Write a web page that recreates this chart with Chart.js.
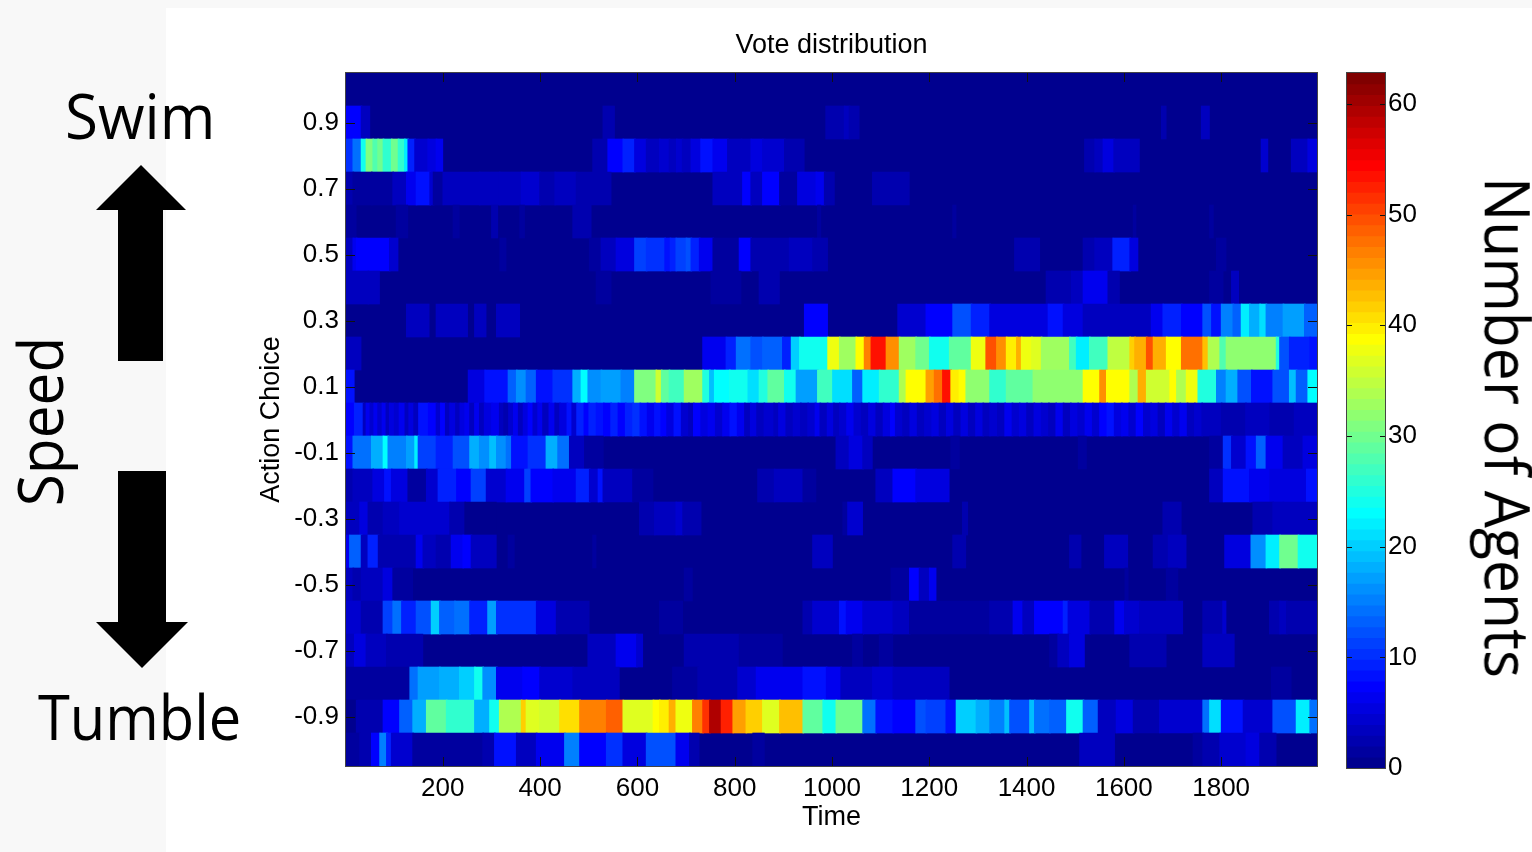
<!DOCTYPE html>
<html><head><meta charset="utf-8">
<script src="https://cdn.jsdelivr.net/npm/chart.js@4"></script>
<style>
html,body{margin:0;padding:0;width:1532px;height:852px;overflow:hidden;background:#fff}
#pl{position:absolute;left:0;top:0;width:166px;height:852px;background:#f8f8f8}
#pt{position:absolute;left:0;top:0;width:1532px;height:8px;background:#f8f8f8}
canvas{position:absolute}
.t{position:absolute;font-family:"Open Sans";color:#000;white-space:nowrap;line-height:1;font-size:63px}
svg{position:absolute;left:0;top:0}
</style></head><body>
<div id="pl"></div><div id="pt"></div>
<canvas id="main" width="1532" height="852" style="left:0;top:0"></canvas>
<canvas id="bar" width="232" height="852" style="left:1300px;top:0"></canvas>
<svg width="200" height="852"><polygon points="141,165 186,210 163,210 163,361 118,361 118,210 96,210" fill="#000"/><polygon points="118,471 166,471 166,622 188,622 142,668 96,622 118,622" fill="#000"/></svg>
<div class="t" style="left:65px;top:83px;transform-origin:left center;transform:scaleX(.954)">Swim</div>
<div class="t" style="left:38px;top:684px;transform-origin:left center;transform:scaleX(.918)">Tumble</div>
<div class="t" style="left:-53px;top:390px;transform:rotate(-90deg) scaleX(.93)">Speed</div>
<div class="t" style="left:1241px;top:396px;transform:rotate(90deg) scaleX(.934)">Number of Agents</div>
<script>
const rowLabels=['1.0','0.9','0.8','0.7','0.6','0.5','0.4','0.3','0.2','0.1','0.0','-0.1','-0.2','-0.3','-0.4','-0.5','-0.6','-0.7','-0.8','-0.9','-1.0'];
const xTicks=[200,400,600,800,1000,1200,1400,1600,1800];
const yTickLabels=['0.9','0.7','0.5','0.3','0.1','-0.1','-0.3','-0.5','-0.7','-0.9'];
const barTicks=[0,10,20,30,40,50,60];
// Each row: [segment start time, agents] — a value holds until the next start
const rowP10=[[1,0]];
const rowP09=[[1,7],[32,3],[50,0],[529,2],[553,0],[987,2],[1025,3],[1035,2],[1056,0],[1677,2.5],[1687,0],[1759,3],[1776,0]];
const rowP08=[[1,10],[15,14],[32,24],[42,31],[56,28],[66,30],[77,26],[94,30],[108,26],[121,22],[128,9],[142,4],[169,5],[186,6],[200,0],[508,2],[539,7],[570,9],[594,5],[618,3],[645,4],[665,3],[680,4],[692,3],[710,5],[730,8],[755,6],[785,3.5],[813,3],[833,5],[857,4],[902,2.5],[943,0],[1519,2],[1540,3],[1557,5],[1579,3],[1632,0],[1882,4.5],[1896,0],[1944,3],[1978,5]];
const rowP07=[[1,2],[15,1],[53,1.5],[97,3.5],[125,6],[145,8],[173,4],[180,1],[200,3],[275,3.5],[316,3],[361,4.5],[399,2.5],[430,3.5],[474,2],[546,0],[755,3],[816,7],[833,3.5],[857,7],[892,1],[929,5],[967,6],[984,2.5],[1005,0],[1083,2.5],[1159,0]];
const rowP06=[[1,1.5],[22,0],[104,1.5],[128,0],[221,1.5],[234,0],[300,2],[313,0],[358,1.5],[368,0],[467,2],[505,0],[970,1],[977,0],[1248,1],[1255,0],[1619,1.5],[1625,0],[1776,1.5],[1784,0]];
const rowP05=[[1,3],[15,6],[22,7],[90,4],[108,0],[317,1.5],[330,0],[501,1.5],[525,3],[556,5],[594,11],[618,10],[656,8],[667,9],[679,11],[700,12],[710,9],[727,6],[755,1],[809,7],[833,2],[912,3],[960,2.5],[991,0],[1375,2],[1427,0],[1516,2.5],[1540,3.5],[1577,9],[1612,5],[1629,0],[1790,1.5],[1810,0]];
const rowP04=[[1,3],[46,3.5],[70,0],[515,1],[546,0],[751,1.5],[813,0],[850,2],[892,0],[1440,2],[1492,3.5],[1516,6],[1567,2],[1591,0],[1776,1.5],[1804,0],[1821,3],[1836,0]];
const rowP03=[[1,0],[125,3],[172,0],[186,3.5],[251,0],[265,3],[289,0],[310,3.5],[358,0],[943,7],[991,0],[1135,4],[1193,7],[1248,12],[1286,9],[1324,5],[1444,8],[1475,5],[1516,3.5],[1656,6],[1680,9],[1718,7.5],[1762,12],[1780,8],[1800,15],[1824,13],[1841,22],[1858,18],[1879,21],[1892,15],[1927,17],[1971,13]];
const rowP02=[[1,3],[32,0],[734,6],[782,9],[803,14],[833,12],[857,13],[898,9],[916,20],[933,24],[991,38],[1015,33],[1049,39],[1066,47],[1080,54],[1111,46],[1138,33],[1172,30],[1200,24],[1241,29],[1286,38],[1316,50],[1338,46],[1358,40],[1379,44],[1389,38],[1410,37],[1430,33],[1488,27],[1502,22],[1529,27],[1567,35],[1612,42],[1622,44],[1646,50],[1660,44],[1687,39],[1718,48],[1762,43],[1773,34],[1797,28],[1810,32],[1913,25],[1920,12],[1940,9],[1982,8]];
const rowP01=[[1,8],[18,0],[252,5],[286,8],[334,13],[351,16],[371,13],[392,8],[426,10],[467,18],[484,23],[498,16],[525,17],[566,15],[594,31],[638,36],[649,29],[665,27],[696,33],[734,25],[748,19],[758,23],[789,24],[827,21],[850,25],[868,29],[902,24],[926,17],[970,27],[1001,21],[1042,13],[1063,22],[1097,26],[1138,34],[1152,39],[1193,45],[1210,48],[1227,54],[1244,40],[1261,39],[1275,32],[1324,26],[1358,29],[1413,32],[1516,39],[1550,46],[1564,39],[1612,34],[1629,44],[1646,36],[1694,39],[1708,34],[1728,38],[1752,25],[1790,15],[1810,18],[1834,12],[1862,8],[1906,12],[1940,19],[1954,13],[1978,23]];
const rowZ00=[[1,7],[18,9],[36,3],[42,6],[50,4],[58,6],[66,4],[75,6],[83,3],[90,5],[100,4],[110,6],[122,3],[130,5],[140,3],[150,8],[170,7],[186,4],[195,7],[205,3],[214,5],[226,3],[235,5],[245,6],[255,3],[265,6],[275,3],[285,5],[300,6],[316,3],[325,2],[335,4],[345,6],[355,3],[365,5],[375,7],[385,4],[395,6],[405,3],[418,6],[430,3],[440,5],[455,8],[465,4],[475,9],[490,7],[500,9],[515,8],[530,7],[545,9],[560,7],[575,9],[590,10],[605,8],[620,6],[635,8],[648,7],[660,5],[675,8],[690,4],[705,3],[715,7],[730,5],[745,6],[760,4],[775,6],[790,8],[805,6],[820,3],[832,5],[845,3],[860,4],[880,3],[890,5],[905,3],[920,4],[935,3],[950,4],[965,6],[975,3],[990,5],[1003,3],[1015,4],[1030,6],[1045,4],[1060,3],[1075,5],[1090,3],[1105,5],[1120,7],[1130,4],[1145,3],[1160,5],[1175,3],[1190,4],[1205,5],[1220,3],[1235,5],[1250,3],[1265,5],[1280,3],[1295,5],[1310,3],[1324,4],[1340,3],[1355,6],[1370,4],[1385,5],[1400,3],[1415,5],[1430,4],[1445,3],[1460,6],[1475,3],[1490,5],[1505,4],[1520,6],[1535,4],[1550,7],[1565,8],[1580,5],[1595,6],[1610,4],[1625,7],[1640,4],[1655,5],[1670,3],[1685,6],[1700,4],[1715,6],[1730,3],[1745,4],[1760,3],[1800,2.5],[1850,3],[1900,2],[1950,3]];
const rowM01=[[1,8],[15,14],[53,18],[77,23],[87,15],[125,17],[142,22],[149,11],[186,9],[221,12],[255,18],[275,16],[296,19],[310,16],[330,14],[341,8],[375,10],[412,18],[436,14],[460,3],[491,1.5],[530,0],[1008,3.5],[1035,5],[1063,3.5],[1083,0],[1244,1.5],[1262,0],[1506,1],[1523,0],[1776,1.5],[1804,10],[1821,4],[1851,8],[1872,13],[1892,6],[1927,3],[1968,5]];
const rowM02=[[1,2],[15,3],[56,5],[80,8],[94,5],[128,1],[166,4],[190,9],[228,7],[258,11],[289,4],[330,6],[368,11],[381,7],[426,6],[474,9],[501,4],[519,8],[529,3],[590,1],[632,0],[847,2],[881,3.5],[940,1.5],[967,0],[1090,3],[1125,7],[1172,5],[1241,0],[1776,3],[1804,8],[1858,6],[1900,5],[1975,8]];
const rowM03=[[1,3.5],[29,5],[46,2],[77,3],[111,4],[214,2],[245,0.5],[310,0],[604,2.5],[635,3],[679,4],[693,2],[731,0],[1022,1],[1032,4],[1063,0],[1268,2],[1279,0],[1680,2],[1718,0],[1865,2],[1906,3.5],[1927,3]];
const rowM04=[[1,6],[8,13],[32,3],[46,9],[67,2],[87,2.5],[145,6],[159,3.5],[186,2],[217,6],[241,7],[258,3],[310,0],[334,1],[347,0],[508,1],[515,0],[960,3],[1001,0],[1248,2.5],[1275,0],[1488,2],[1512,0],[1560,3],[1608,0],[1660,2.5],[1691,3],[1728,0],[1807,5],[1861,16],[1892,22],[1920,30],[1958,24]];
const rowM05=[[1,3],[15,2],[32,3],[77,5],[97,1],[138,0],[696,1.5],[713,0],[1121,1.5],[1159,7],[1179,3.5],[1200,6],[1214,0],[1602,1],[1609,0],[1687,1.5],[1711,0]];
const rowM06=[[1,4],[32,2.5],[77,11],[97,14],[115,9],[145,12],[176,20],[193,13],[224,14],[255,9],[292,17],[310,10],[392,5],[433,2],[501,0],[645,1.5],[693,0],[940,2.5],[960,4.5],[1015,8],[1029,6],[1063,4],[1125,3],[1159,1],[1324,2.5],[1372,6],[1392,3.5],[1416,7.5],[1475,9],[1485,5],[1530,2],[1581,6],[1601,4.5],[1632,3],[1721,0],[1762,2],[1803,4],[1810,0],[1899,2.5],[1920,3.5],[1934,2.5]];
const rowM07=[[1,3],[18,5],[42,3],[84,2],[159,0],[498,3.5],[556,6],[598,4],[611,0],[696,2.5],[809,1],[898,0],[1042,1.5],[1063,0],[1097,1.5],[1125,0],[1447,1.5],[1464,3],[1488,5.5],[1519,0],[1612,2],[1687,0],[1762,3],[1827,0]];
const rowM08=[[1,1],[132,14],[149,17],[193,18],[234,20],[265,24],[282,16],[310,6],[364,7],[399,4.5],[467,3],[563,0],[672,1.5],[724,2],[806,4],[844,6.5],[940,8],[988,6],[1018,3],[1083,4],[1125,3],[1241,0],[1903,1],[1944,0]];
const rowM09=[[1,0.5],[22,2],[77,7],[111,13],[138,18],[166,29],[207,26],[265,18],[296,24],[316,34],[361,42],[371,37],[399,36],[440,41],[481,47],[536,49],[570,37],[632,39],[645,40],[665,44],[679,38],[713,47],[734,52],[748,60],[772,53],[796,45],[823,42],[857,37],[892,43],[940,29],[981,24],[1008,30],[1063,14],[1090,8],[1125,7],[1172,12],[1193,11],[1234,8],[1255,20],[1296,18],[1324,15],[1355,19],[1365,12],[1406,19],[1416,14],[1447,13],[1482,24],[1516,13],[1547,3],[1584,5],[1619,2],[1673,4],[1762,14],[1776,21],[1800,8],[1845,4.5],[1906,12],[1954,22],[1982,14]];
const rowM10=[[1,1],[29,2.5],[53,7],[70,15],[84,9],[94,4],[138,1],[282,2],[306,8],[351,3],[392,6],[450,15],[481,7],[536,10],[570,5],[618,12],[679,6],[707,2],[727,0],[837,1.5],[861,0],[1509,3],[1581,0],[1742,1.5],[1762,2.5],[1797,4],[1851,5],[1879,2],[1913,0]];
const rows=[rowP10,rowP09,rowP08,rowP07,rowP06,rowP05,rowP04,rowP03,rowP02,rowP01,rowZ00,rowM01,rowM02,rowM03,rowM04,rowM05,rowM06,rowM07,rowM08,rowM09,rowM10];
const xMin=1,xMax=1997,cbMax=62.8,nLevels=64;

function jet(i){
  const c=v=>Math.round(255*Math.max(0,Math.min(1,v)));
  const r=i<24?0:i<56?(i-23)/16:1-(i-55)/16;
  const g=i<8?0:i<24?(i-7)/16:i<40?1:1-(i-39)/16;
  const b=i<8?.5+(i+1)/16:i<24?1:i<40?1-(i-23)/16:0;
  return `rgb(${c(r)},${c(g)},${c(b)})`;
}
const colorOf=v=>jet(Math.max(0,Math.min(nLevels-1,Math.floor(v/63*nLevels))));

const F='"Liberation Sans",Arial,sans-serif';
const fs=26,ts=27;
const cells=[];
rows.forEach((row,ri)=>{row.forEach((s,i)=>{
  const end=i+1<row.length?row[i+1][0]:xMax;
  if(s[1]>0&&end>s[0]) cells.push({x:[s[0],end+(i+1<row.length&&row[i+1][1]>0?2:0)],y:rowLabels[ri],v:s[1]});
});});

const frame={id:'frame',
 beforeDatasetsDraw(c){const a=c.chartArea,x=c.ctx;x.save();x.fillStyle=jet(0);x.fillRect(a.left,a.top,a.width,a.height);x.restore();},
 afterDraw(c){const a=c.chartArea,x=c.ctx;x.save();
  x.strokeStyle='#111';x.lineWidth=1;x.beginPath();
  c.scales.x.ticks.forEach(t=>{const p=Math.round(c.scales.x.getPixelForValue(t.value))+.5;x.moveTo(p,a.top);x.lineTo(p,a.top+9);x.moveTo(p,a.bottom);x.lineTo(p,a.bottom-9);});
  yTickLabels.forEach(l=>{const p=Math.round(c.scales.y.getPixelForValue(rowLabels.indexOf(l)))+.5;x.moveTo(a.left,p);x.lineTo(a.left+9,p);x.moveTo(a.right,p);x.lineTo(a.right-9,p);});
  x.stroke();
  x.strokeStyle='#444';x.strokeRect(a.left-.5,a.top-.5,a.width+1,a.height+1);x.restore();}};

new Chart(document.getElementById('main'),{type:'bar',
 data:{labels:rowLabels,datasets:[{data:cells,backgroundColor:c=>colorOf(c.raw.v),borderWidth:0,barPercentage:1,categoryPercentage:1,grouped:false}]},
 options:{indexAxis:'y',responsive:false,animation:false,events:[],
  layout:{padding:{left:255,right:215,top:0,bottom:18}},
  plugins:{legend:{display:false},tooltip:{enabled:false},
   title:{display:true,text:'Vote distribution',fullSize:false,color:'#000',font:{family:F,size:ts,weight:'normal'},padding:{top:29.3,bottom:11.3}}},
  scales:{
   x:{type:'linear',min:xMin,max:xMax,position:'bottom',grid:{display:false,drawTicks:false},border:{display:false},
     afterBuildTicks:s=>{s.ticks=xTicks.map(v=>({value:v}));},
     afterFit:s=>{s.height=68;},
     ticks:{color:'#000',font:{family:F,size:fs},padding:7,maxRotation:0,autoSkip:false,callback:v=>String(v)},
     title:{display:true,text:'Time',color:'#000',font:{family:F,size:ts},padding:0}},
   y:{type:'category',grid:{display:false,drawTicks:false},border:{display:false},
     afterFit:s=>{s.width=91;},
     ticks:{color:'#000',font:{family:F,size:fs},padding:7,autoSkip:false,callback(v){const l=rowLabels[v];return yTickLabels.includes(l)?l:'';}},
     title:{display:true,text:'Action Choice',color:'#000',font:{family:F,size:ts},padding:0}}
  }},plugins:[frame]});

const levels=Array.from({length:nLevels},(_,i)=>i);
const barFrame={id:'barFrame',afterDraw(c){const a=c.chartArea,x=c.ctx;x.save();x.strokeStyle='#111';x.lineWidth=1;x.beginPath();
  barTicks.forEach(v=>{const p=Math.round(c.scales.y.getPixelForValue(v))+.5;x.moveTo(a.left,p);x.lineTo(a.left+5,p);x.moveTo(a.right,p);x.lineTo(a.right-5,p);});
  x.stroke();x.strokeStyle='#444';x.strokeRect(a.left-.5,a.top-.5,a.width+1,a.height+1);x.restore();}};
new Chart(document.getElementById('bar'),{type:'bar',
 data:{labels:['c'],datasets:[{data:levels.map(i=>({x:'c',y:[i*cbMax/nLevels,(i+1)*cbMax/nLevels+0.05]})),backgroundColor:c=>jet(c.dataIndex),borderWidth:0,barPercentage:1,categoryPercentage:1,grouped:false}]},
 options:{responsive:false,animation:false,events:[],
  layout:{padding:{left:47,right:0,top:73,bottom:84}},
  plugins:{legend:{display:false},tooltip:{enabled:false}},
  scales:{x:{display:false},
   y:{type:'linear',position:'right',min:0,max:cbMax,grid:{display:false,drawTicks:false},border:{display:false},
     afterBuildTicks:s=>{s.ticks=barTicks.map(v=>({value:v}));},
     afterFit:s=>{s.width=147;},
     ticks:{color:'#000',font:{family:F,size:fs},padding:3,callback:v=>String(v)}}}
 },plugins:[barFrame]});
</script>
</body></html>
